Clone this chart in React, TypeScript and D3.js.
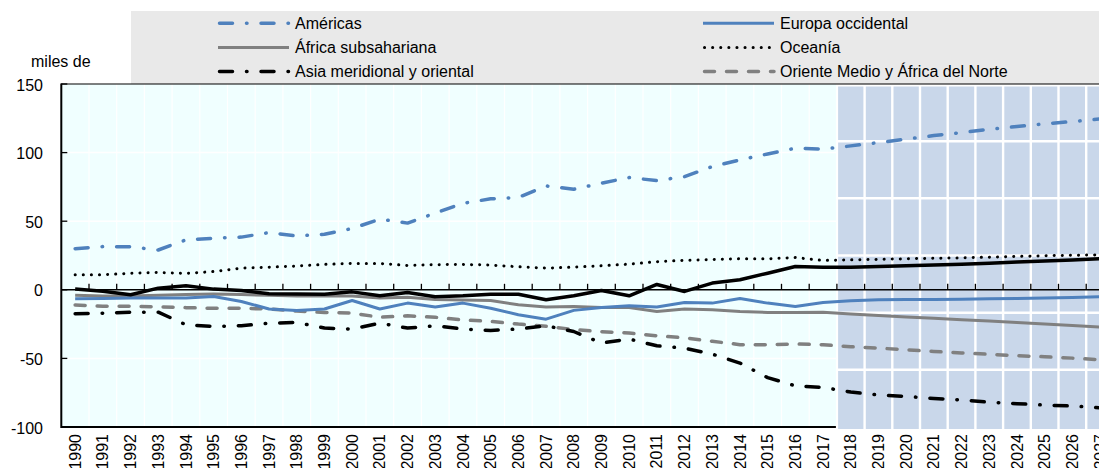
import React from "react";
import * as d3 from "d3";

const years: number[] = d3.range(1990, 2028);
const projectionYears: number[] = d3.range(2018, 2028);

const americas = [30, 31.5, 31.3, 29, 36.4, 37.6, 38.4, 41.7, 39.3, 40.5, 44.7, 51.5, 48.6, 55.9, 63, 66.3, 67.3, 75.7, 73.3, 77.7, 81.8, 79.6, 82.5, 89.8, 94.7, 99, 103.2, 102.5, 104.9, 107.3, 109.8, 112.4, 114.6, 117, 119, 121, 122.6, 124.5];
const europa = [-6.6, -6.3, -6, -6, -6, -4.9, -8.5, -14, -15, -14, -7.8, -14, -9.7, -12.6, -9.7, -13.4, -18.2, -21.4, -15, -12.9, -11.7, -12.6, -9.2, -9.7, -6.3, -9.7, -12.1, -9.2, -8, -7.3, -7, -7, -6.8, -6.6, -6.4, -6, -5.6, -5];
const africaSub = [-4, -4.5, -4.5, -4, -3.5, -3, -3.5, -4, -4.5, -4.5, -4.5, -6, -5.5, -7, -7.5, -7.8, -10.9, -12.6, -12.1, -12.9, -12.9, -15.8, -14, -14.6, -15.8, -16.5, -16.5, -16.3, -17.7, -18.8, -19.9, -20.8, -21.8, -22.8, -23.8, -24.9, -26, -27.2];
const oceania = [11, 11, 12, 12.6, 12, 13.3, 15.8, 16.5, 17.3, 18.5, 19.2, 19.2, 17.7, 18.3, 18.5, 18, 16.8, 15.8, 16.5, 17.5, 18.7, 20.5, 21.5, 22, 22.6, 22.6, 23.5, 21.4, 21.8, 22.2, 22.6, 23, 23.3, 23.8, 24.3, 24.8, 25.2, 25.5];
const asia = [-17.5, -17, -16.3, -16.3, -25.5, -26.7, -26.2, -24.3, -23.8, -27.9, -28.6, -24.3, -27.9, -26.2, -28.6, -29.6, -28.6, -26.2, -30.4, -38.8, -35.9, -40.8, -42.5, -46.9, -53.4, -64, -70, -71.2, -74.5, -76.7, -77.7, -79.2, -80.3, -81.9, -83, -84, -84.7, -86];
const orienteMedio = [-11, -12, -12, -12.5, -13, -13.5, -13.5, -14, -15.5, -16.5, -17, -20, -19, -20, -22, -23, -25, -26.5, -29, -30.5, -31.5, -33.5, -35, -37.5, -40, -40, -39.5, -40, -41.5, -42.5, -43.7, -44.9, -46, -47, -48, -48.8, -49.8, -51];
const otros = [0.5, -1, -3.6, 1.2, 2.9, 0.5, -0.5, -2.9, -3, -3.2, -1.5, -4.4, -2, -5, -4.4, -3.2, -3.2, -7.3, -4.4, -0.5, -4.4, 3.9, -1.2, 4.9, 7.3, 12.1, 17, 16.5, 16.5, 17, 17.5, 18, 18.7, 19.4, 20.2, 21, 21.8, 22.6];

const yTicks = [150, 100, 50, 0, -50, -100];
const yGrid = [100, 50, -50];
const shadeGrid = [1, 2, 3, 4, 5];

const BLUE = "#4F81BD";
const GREY = "#808080";
const BLACK = "#000000";

type Series = {
  name: string;
  values: number[];
  color: string;
  width: number;
  dash: string | null;
  cap: "round" | "butt";
  legend: [number, number] | null; // column, row
};

const series: Series[] = [
  { name: "África subsahariana", values: africaSub, color: GREY, width: 3, dash: null, cap: "butt", legend: [0, 1] },
  { name: "Oriente Medio y África del Norte", values: orienteMedio, color: GREY, width: 3.5, dash: "10,12", cap: "round", legend: [1, 2] },
  { name: "Europa occidental", values: europa, color: BLUE, width: 3, dash: null, cap: "butt", legend: [1, 0] },
  { name: "Oceanía", values: oceania, color: BLACK, width: 3, dash: "0.1,8", cap: "round", legend: [1, 1] },
  { name: "", values: otros, color: BLACK, width: 3.5, dash: null, cap: "butt", legend: null },
  { name: "Asia meridional y oriental", values: asia, color: BLACK, width: 3.5, dash: "13,14,0.5,14", cap: "round", legend: [0, 2] },
  { name: "Américas", values: americas, color: BLUE, width: 3.5, dash: "13,14,0.5,14", cap: "round", legend: [0, 0] },
];

const W = 1099;
const H = 468;
const FONT = "'Liberation Sans', Arial, sans-serif";

export default function App() {
  const left = 61.3;
  const bw = 27.7;
  const top = 84;
  const bottom = 427;
  const x = d3.scaleBand<number>().domain(years).range([left, left + bw * years.length]).padding(0);
  const y = d3.scaleLinear().domain([-100, 150]).range([bottom, top]);
  const ys = d3.scaleLinear().domain([0, 6]).range([bottom, top]);
  const right = left + bw * years.length;
  const cx = (yr: number) => (x(yr) as number) + x.bandwidth() / 2;
  const line = (vals: number[]) =>
    d3.line<number>().x((_, i) => cx(years[i])).y((v) => y(v))(vals) as string;

  const shadeStart = x(projectionYears[0]) as number;
  const legendCols = [218, 703];
  const legendRows = [23.3, 47.6, 71.6];

  return (
    <svg width={W} height={H} style={{ position: "absolute", left: 0, top: 0, fontFamily: FONT }}>
      {/* legend background */}
      <rect x={131} y={11} width={W - 131} height={top - 11} fill="#E9E9E9" />
      {/* plot background */}
      <rect x={left} y={top} width={right - left} height={bottom - top} fill="#F0FFFF" />
      {/* grid in historical area */}
      {years.slice(1).map((yr) => (
        <line key={"vg" + yr} x1={x(yr)} x2={x(yr)} y1={top} y2={bottom} stroke="#FFFFFF" strokeWidth={1.2} />
      ))}
      {yGrid.map((v) => (
        <line key={"hg" + v} x1={left} x2={shadeStart} y1={y(v)} y2={y(v)} stroke="#FFFFFF" strokeWidth={1.5} />
      ))}
      {/* projection shading */}
      <rect x={shadeStart - 1} y={top} width={right - shadeStart + 1} height={bottom - top + 2} fill="#FFFFFF" />
      {projectionYears.map((yr) => (
        <rect
          key={"sh" + yr}
          x={(x(yr) as number) + 1.2}
          y={top + 2.5}
          width={x.bandwidth() - 2.4}
          height={bottom - top - 0.5}
          fill="#C9D7EA"
        />
      ))}
      {shadeGrid.map((v) => (
        <line key={"sg" + v} x1={shadeStart} x2={right} y1={ys(v)} y2={ys(v)} stroke="#FFFFFF" strokeWidth={2.5} />
      ))}
      {/* zero line with ticks */}
      <line x1={left} x2={right} y1={y(0)} y2={y(0)} stroke="#000" strokeWidth={1.5} />
      {years.slice(1).map((yr) => (
        <line key={"xt" + yr} x1={x(yr)} x2={x(yr)} y1={y(0)} y2={y(0) - 6} stroke="#000" strokeWidth={1.3} />
      ))}
      {/* series */}
      {series.map((s, i) => (
        <path
          key={"s" + i}
          d={line(s.values)}
          fill="none"
          stroke={s.color}
          strokeWidth={s.width}
          strokeDasharray={s.dash ?? undefined}
          strokeLinecap={s.cap}
          strokeLinejoin="round"
        />
      ))}
      {/* frame */}
      <line x1={left} x2={W} y1={top} y2={top} stroke="#000" strokeWidth={1.2} />
      <line x1={left} x2={shadeStart - 1} y1={bottom} y2={bottom} stroke="#000" strokeWidth={2} />
      <line x1={left} x2={left} y1={top - 0.5} y2={bottom + 1} stroke="#000" strokeWidth={2} />
      {yTicks.map((v) => (
        <g key={"yt" + v}>
          <line x1={left} x2={left + 6} y1={y(v)} y2={y(v)} stroke="#000" strokeWidth={1.3} />
          <text x={43} y={y(v) + 1} dy="0.35em" textAnchor="end" fontSize={16} fill="#000">
            {v}
          </text>
        </g>
      ))}
      <text x={31} y={67} fontSize={16} fill="#000">miles de</text>
      {/* x labels */}
      {years.map((yr) => (
        <text
          key={"xl" + yr}
          transform={`translate(${cx(yr)},${434}) rotate(-90)`}
          dy="0.35em"
          textAnchor="end"
          fontSize={16}
          fill="#000"
        >
          {yr}
        </text>
      ))}
      {/* legend */}
      {series
        .filter((s) => s.legend)
        .map((s, i) => {
          const [c, r] = s.legend as [number, number];
          const lx = legendCols[c];
          const ly = legendRows[r];
          return (
            <g key={"lg" + i}>
              <line
                x1={lx + (s.cap === "round" ? 1.5 : 0)}
                x2={lx + 71}
                y1={ly}
                y2={ly}
                stroke={s.color}
                strokeWidth={s.width}
                strokeDasharray={s.dash ?? undefined}
                strokeLinecap={s.cap}
              />
              <text x={lx + 77} y={ly} dy="0.35em" fontSize={16} fill="#000">
                {s.name}
              </text>
            </g>
          );
        })}
    </svg>
  );
}
